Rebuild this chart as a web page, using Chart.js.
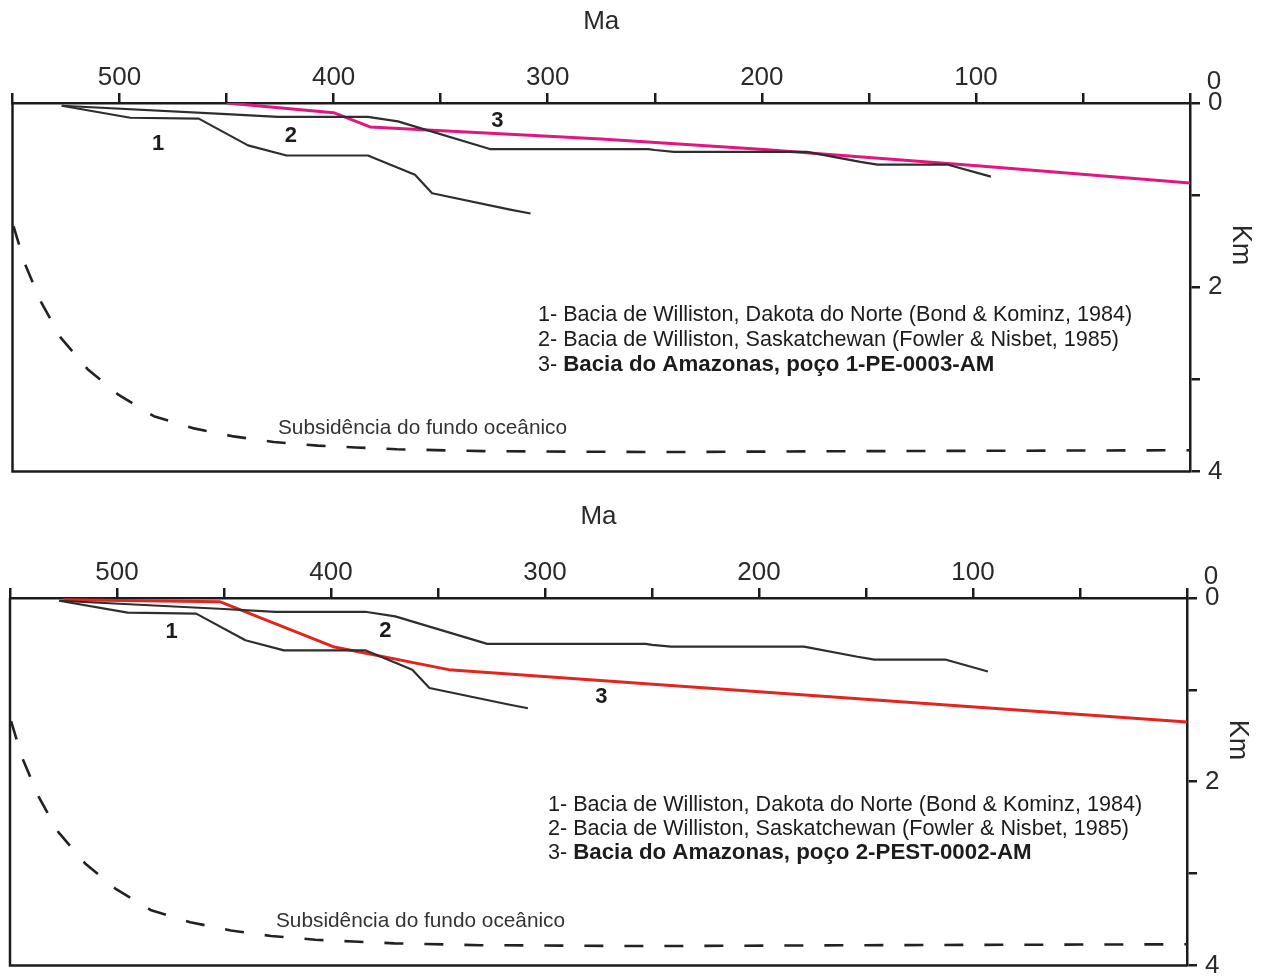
<!DOCTYPE html>
<html><head><meta charset="utf-8">
<script src="https://cdn.jsdelivr.net/npm/chart.js@4.4.0/dist/chart.umd.min.js"></script>
<style>
html,body{margin:0;padding:0;background:#fff;width:1262px;height:977px;overflow:hidden;}
.wrap{position:absolute;left:0;width:1262px;}
</style></head><body>
<div class="wrap" style="top:0;height:495px"><canvas id="c1"></canvas></div>
<div class="wrap" style="top:495px;height:494px"><canvas id="c2"></canvas></div>
<script>
// ---- data (Ma = age, Km = depth) ----
const maTickLabels = [500, 400, 300, 200, 100];
const kmTickLabels = [0, 2, 4];
const curve1Ma = [527, 495, 463, 440, 422, 384, 362, 354, 317, 308];
const curve1Km = [0.03, 0.16, 0.17, 0.46, 0.57, 0.57, 0.78, 0.98, 1.16, 1.20];
const curve2Ma = [527, 450, 426, 384, 370, 327, 253, 250, 241, 179, 154, 146, 113, 93];
const curve2Km = [0.03, 0.12, 0.15, 0.15, 0.20, 0.50, 0.50, 0.51, 0.53, 0.53, 0.64, 0.67, 0.67, 0.80];
const pe0003Ma = [450, 400, 383, 275, 199, 98, 0];
const pe0003Km = [0, 0.105, 0.26, 0.39, 0.505, 0.685, 0.87];
const pest0002Ma = [525, 452, 399, 345, 261, 0];
const pest0002Km = [0.02, 0.04, 0.53, 0.78, 0.92, 1.35];
const oceanMa = [549.5, 544.3, 536.7, 527.4, 514.9, 500.4, 484, 465.8, 446.8, 428, 407.4, 389.6, 370.4, 330, 250, 150, 0];
const oceanKm = [1.34, 1.74, 2.16, 2.55, 2.89, 3.17, 3.40, 3.53, 3.62, 3.68, 3.72, 3.74, 3.76, 3.78, 3.79, 3.78, 3.77];
const legendLines = ['1- Bacia de Williston, Dakota do Norte (Bond & Kominz, 1984)',
                     '2- Bacia de Williston, Saskatchewan (Fowler & Nisbet, 1985)'];
const legendTopBold = 'Bacia do Amazonas, poço 1-PE-0003-AM';
const legendBottomBold = 'Bacia do Amazonas, poço 2-PEST-0002-AM';
const oceanLabel = 'Subsidência do fundo oceânico';

const FONT = '"Liberation Sans", Arial, Helvetica, sans-serif';
const INK = '#1c1c1c';

function pts(xs, ys) { return xs.map((v, i) => ({x: v, y: ys[i]})); }

const overlay = {
  id: 'overlay',
  afterDatasetsDraw(chart, args, o) {
    const {ctx, chartArea: a, scales: {x, y}} = chart;
    ctx.save();
    ctx.strokeStyle = INK; ctx.lineWidth = 2.5;
    ctx.beginPath(); ctx.moveTo(a.left, a.top); ctx.lineTo(a.left, a.bottom); ctx.lineTo(a.right, a.bottom); ctx.stroke();
    ctx.fillStyle = INK;
    ctx.textBaseline = 'middle';
    // curve numbers
    ctx.font = 'bold 22px ' + FONT; ctx.textAlign = 'center';
    o.numbers.forEach(n => ctx.fillText(n.t, x.getPixelForValue(n.ma), y.getPixelForValue(n.km)));
    // top "0" label
    ctx.font = '26px ' + FONT; ctx.fillStyle = '#2a2a2a';
    ctx.fillText('0', a.right + 24, a.top - 21);
    // Km
    ctx.save(); ctx.translate(a.right + 50, a.top + 142); ctx.rotate(Math.PI / 2);
    ctx.font = '27px ' + FONT; ctx.fillText('Km', 0, 0); ctx.restore();
    // legend
    ctx.fillStyle = INK; ctx.textAlign = 'left';
    ctx.font = '21.6px ' + FONT;
    ctx.fillText(legendLines[0], o.legX, o.legY);
    ctx.fillText(legendLines[1], o.legX, o.legY + o.legDy);
    ctx.fillText('3- ', o.legX, o.legY + 2 * o.legDy);
    const w = ctx.measureText('3- ').width;
    ctx.font = 'bold 22.3px ' + FONT;
    ctx.fillText(o.bold, o.legX + w, o.legY + 2 * o.legDy);
    // ocean label
    ctx.font = '20.8px ' + FONT; ctx.fillStyle = '#333';
    ctx.fillText(oceanLabel, o.ocX, o.ocY);
    ctx.restore();
  }
};

function makeChart(id, c3Ma, c3Km, c3Color, cfg) {
  return new Chart(document.getElementById(id), {
    type: 'line',
    data: {
      datasets: [
        {data: pts(curve1Ma, curve1Km), borderColor: '#2e2e2e', borderWidth: 2.2},
        {data: pts(curve2Ma, curve2Km), borderColor: '#2e2e2e', borderWidth: 2.2},
        {data: pts(oceanMa, oceanKm), borderColor: '#222', borderWidth: 2.6, borderDash: [19, 21]},
        {data: pts(c3Ma, c3Km), borderColor: c3Color, borderWidth: 3}
      ]
    },
    options: {
      responsive: true, maintainAspectRatio: false, animation: false,
      devicePixelRatio: 1,
      layout: {padding: {left: cfg.left, right: 0, top: 0, bottom: 10}},
      elements: {point: {radius: 0}, line: {tension: 0, borderJoinStyle: 'round'}},
      plugins: {legend: {display: false}, tooltip: {enabled: false}, overlay: cfg.ov},
      scales: {
        x: {
          type: 'linear', position: 'top', reverse: true, min: 0, max: 550,
          afterFit(s) { s.height = 103; },
          border: {display: true, color: INK, width: 2.5},
          grid: {drawOnChartArea: false, drawTicks: true, tickLength: 10, color: INK, lineWidth: 2.5},
          ticks: {stepSize: 50, autoSkip: false, maxRotation: 0, padding: 0, color: '#2a2a2a',
                  font: {family: FONT, size: 26},
                  callback: v => maTickLabels.includes(v) ? String(v) : ''},
          title: {display: true, text: 'Ma', color: '#2a2a2a', font: {family: FONT, size: 26}, padding: {top: 6, bottom: 0}}
        },
        y: {
          type: 'linear', position: 'right', reverse: true, min: 0, max: 4,
          afterFit(s) { s.width = cfg.yw; },
          border: {display: true, color: INK, width: 2.5},
          grid: {drawOnChartArea: false, drawTicks: true, tickLength: 10, color: INK, lineWidth: 2.5},
          ticks: {stepSize: 1, autoSkip: false, padding: 8, color: '#2a2a2a',
                  font: {family: FONT, size: 26},
                  callback: v => kmTickLabels.includes(v) ? String(v) : ''}
        }
      }
    },
    plugins: [overlay]
  });
}

makeChart('c1', pe0003Ma, pe0003Km, '#e3167f', {
  left: 12.5, yw: 72,
  ov: {numbers: [{t: '1', ma: 482, km: 0.44}, {t: '2', ma: 420, km: 0.36}, {t: '3', ma: 323.5, km: 0.19}],
       legX: 538, legY: 315, legDy: 25, bold: legendTopBold, ocX: 278, ocY: 428}
});
makeChart('c2', pest0002Ma, pest0002Km, '#e4241f', {
  left: 10, yw: 75,
  ov: {numbers: [{t: '1', ma: 474.5, km: 0.37}, {t: '2', ma: 374.6, km: 0.36}, {t: '3', ma: 273.7, km: 1.08}],
       legX: 548, legY: 310, legDy: 24, bold: legendBottomBold, ocX: 276, ocY: 426}
});
</script>
</body></html>
